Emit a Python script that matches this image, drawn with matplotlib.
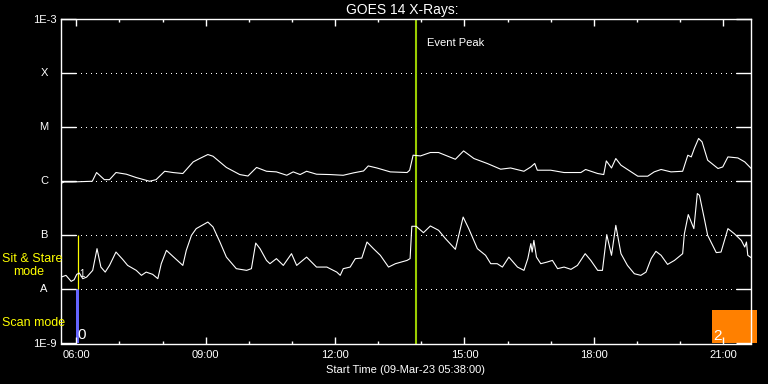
import matplotlib
matplotlib.use("Agg")
import matplotlib.pyplot as plt
from matplotlib.patches import Rectangle
import numpy as np

plt.rcParams['font.family'] = ['Liberation Sans', 'DejaVu Sans']

# ---- data (hours of day, W/m^2) ----
long_t = [5.62, 5.64, 5.72, 5.91, 6.37, 6.47, 6.54, 6.65, 6.77, 6.92, 7.16, 7.39, 7.70, 7.85, 8.05,
          8.24, 8.47, 8.71, 8.86, 9.05, 9.17, 9.48, 9.79, 9.98, 10.18, 10.41, 10.64, 10.88, 11.03, 11.19,
          11.34, 11.57, 11.88, 12.19, 12.43, 12.66, 12.77, 12.97, 13.28, 13.67, 13.73, 13.81, 13.98, 14.21, 14.40,
          14.79, 14.98, 15.22, 15.53, 15.84, 16.07, 16.38, 16.54, 16.63, 16.69, 17.00, 17.31, 17.70, 17.81, 18.09,
          18.23, 18.29, 18.41, 18.51, 18.63, 19.02, 19.25, 19.40, 19.56, 19.79, 20.06, 20.18, 20.26, 20.33, 20.43,
          20.51, 20.64, 20.88, 20.99, 21.11, 21.34, 21.50, 21.65]
long_flux = [2.3e-7, 9.1e-7, 9.7e-7, 9.7e-7, 1.0e-6, 1.45e-6, 1.29e-6, 1.07e-6, 1.07e-6, 1.45e-6, 1.35e-6, 1.17e-6, 1.0e-6, 1.07e-6, 1.53e-6,
             1.45e-6, 1.39e-6, 2.28e-6, 2.63e-6, 3.12e-6, 2.90e-6, 1.80e-6, 1.33e-6, 1.25e-6, 1.80e-6, 1.53e-6, 1.49e-6, 1.29e-6, 1.49e-6, 1.33e-6,
             1.53e-6, 1.35e-6, 1.33e-6, 1.29e-6, 1.43e-6, 1.55e-6, 1.92e-6, 1.76e-6, 1.49e-6, 1.45e-6, 1.60e-6, 3.03e-6, 2.94e-6, 3.40e-6, 3.40e-6,
             2.55e-6, 3.64e-6, 2.63e-6, 2.13e-6, 1.67e-6, 1.76e-6, 1.53e-6, 1.84e-6, 2.13e-6, 1.60e-6, 1.60e-6, 1.45e-6, 1.45e-6, 1.65e-6, 1.39e-6,
             1.33e-6, 2.38e-6, 1.76e-6, 2.63e-6, 1.98e-6, 1.24e-6, 1.24e-6, 1.49e-6, 1.65e-6, 1.49e-6, 1.53e-6, 3.03e-6, 2.82e-6, 4.03e-6, 6.18e-6,
             5.35e-6, 2.45e-6, 1.72e-6, 1.84e-6, 2.82e-6, 2.70e-6, 2.28e-6, 1.72e-6]

short_t = [5.65, 5.76, 5.88, 5.95, 6.01, 6.07, 6.15, 6.24, 6.38, 6.48, 6.57, 6.67, 6.77, 6.92, 7.08,
           7.19, 7.39, 7.51, 7.62, 7.77, 7.89, 7.97, 8.09, 8.24, 8.47, 8.55, 8.67, 8.78, 9.05, 9.17,
           9.33, 9.48, 9.71, 9.95, 10.06, 10.16, 10.26, 10.41, 10.49, 10.64, 10.80, 10.99, 11.11, 11.34, 11.57,
           11.81, 12.04, 12.12, 12.19, 12.35, 12.47, 12.62, 12.74, 12.89, 13.05, 13.24, 13.40, 13.67, 13.74, 13.78,
           13.88, 14.05, 14.21, 14.40, 14.56, 14.79, 14.97, 15.10, 15.30, 15.49, 15.61, 15.76, 15.88, 16.03, 16.23,
           16.38, 16.47, 16.54, 16.57, 16.61, 16.67, 16.77, 16.92, 17.04, 17.16, 17.31, 17.47, 17.62, 17.80, 17.93,
           18.09, 18.20, 18.30, 18.41, 18.51, 18.63, 18.78, 18.94, 19.09, 19.21, 19.33, 19.44, 19.56, 19.71, 19.87,
           20.06, 20.10, 20.19, 20.32, 20.40, 20.45, 20.57, 20.64, 20.84, 20.95, 21.11, 21.26, 21.42, 21.50, 21.54,
           21.57, 21.65]
short_flux = [1.69e-8, 1.82e-8, 1.41e-8, 1.51e-8, 1.90e-8, 2.01e-8, 1.58e-8, 1.69e-8, 2.25e-8, 5.67e-8, 2.59e-8, 2.09e-8, 2.78e-8, 4.91e-8, 3.55e-8,
              2.78e-8, 2.25e-8, 1.82e-8, 2.09e-8, 1.90e-8, 1.58e-8, 2.99e-8, 5.27e-8, 4.08e-8, 2.78e-8, 5.27e-8, 1.00e-7, 1.33e-7, 1.76e-7, 1.43e-7,
              7.52e-8, 3.96e-8, 2.42e-8, 2.25e-8, 2.42e-8, 7.20e-8, 5.67e-8, 3.44e-8, 2.99e-8, 3.71e-8, 2.78e-8, 4.58e-8, 2.78e-8, 3.96e-8, 2.59e-8,
              2.59e-8, 2.09e-8, 1.82e-8, 2.42e-8, 2.59e-8, 3.71e-8, 3.80e-8, 7.52e-8, 5.67e-8, 4.27e-8, 2.59e-8, 2.99e-8, 3.44e-8, 3.71e-8, 1.47e-7,
              1.47e-7, 1.12e-7, 1.49e-7, 1.24e-7, 8.69e-8, 5.51e-8, 2.18e-7, 1.33e-7, 5.67e-8, 4.27e-8, 2.99e-8, 2.99e-8, 2.59e-8, 3.96e-8, 2.59e-8,
              2.25e-8, 3.71e-8, 7.02e-8, 4.91e-8, 8.07e-8, 3.96e-8, 2.99e-8, 3.21e-8, 3.44e-8, 2.42e-8, 2.59e-8, 2.35e-8, 2.78e-8, 4.58e-8, 3.44e-8,
              2.25e-8, 2.25e-8, 1.03e-7, 4.27e-8, 1.53e-7, 4.58e-8, 2.78e-8, 1.95e-8, 1.82e-8, 2.09e-8, 3.71e-8, 5.06e-8, 4.27e-8, 2.90e-8, 3.44e-8,
              4.58e-8, 1.07e-7, 2.42e-7, 1.33e-7, 5.92e-7, 5.51e-7, 1.90e-7, 1.00e-7, 4.79e-8, 4.91e-8, 1.33e-7, 1.07e-7, 8.07e-8, 6.07e-8, 7.52e-8,
              4.27e-8, 3.86e-8]

x_start, x_end = 5 + 38 / 60, 21 + 38 / 60
major_hours = [6, 9, 12, 15, 18, 21]
major_labels = ["06:00", "09:00", "12:00", "15:00", "18:00", "21:00"]
minor_hours = list(range(6, 22))
y_decades = [1e-9, 1e-8, 1e-7, 1e-6, 1e-5, 1e-4, 1e-3]
class_letters = ["A", "B", "C", "M", "X"]
class_levels = [1e-8, 1e-7, 1e-6, 1e-5, 1e-4]
event_peak = 13.88
sit_stare_t, sit_stare_lo, sit_stare_hi = 6.05, 1e-8, 1e-7
scan_t0, scan_t1 = 5.99, 6.06
orange_t0, orange_t1, orange_top = 20.74, 21.78, 4.2e-9

W, H = 768, 384
fig = plt.figure(figsize=(W / 100, H / 100), dpi=100, facecolor='black')
ax = fig.add_axes([60.5 / W, 1 - 343.5 / H, 690 / W, 324.5 / H], facecolor='black')

ax.set_yscale('log')
ax.set_xlim(x_start, x_end)
ax.set_ylim(1e-9, 1e-3)

# grid (dotted) at decades
for lev in class_levels:
    ax.axhline(lev, color='white', lw=0.72, ls=(0, (1, 5)), zorder=1.2, antialiased=False)

# markers
ax.fill_betweenx([1e-9, 1e-8], scan_t0, scan_t1, color='#6666ff', lw=0, zorder=1.3)
ax.vlines(sit_stare_t, sit_stare_lo, sit_stare_hi, color='#ffff00', lw=0.9, zorder=1.4)
ax.axvline(event_peak, color='#99cc00', lw=1.5, zorder=1.4)
ax.add_patch(Rectangle((orange_t0, 1e-9), orange_t1 - orange_t0, orange_top - 1e-9,
                       facecolor='#ff8000', edgecolor='none', clip_on=False, zorder=1.1))

ax.plot(long_t, long_flux, color='white', lw=0.8, zorder=2)
ax.plot(short_t, short_flux, color='white', lw=0.8, zorder=2)

# axes styling
for s in ax.spines.values():
    s.set_color('white')
    s.set_linewidth(1.0)
    s.set_zorder(3)

ax.set_xticks(major_hours)
ax.set_xticklabels(major_labels)
ax.set_xticks(minor_hours, minor=True)
ax.tick_params(axis='x', which='major', direction='in', length=5, width=1, color='white',
               labelcolor='white', labelsize=8, pad=5, top=True, bottom=True)
ax.tick_params(axis='x', which='minor', direction='in', length=2.5, width=1, color='white',
               top=True, bottom=True)

ax.set_yticks(y_decades)
ax.set_yticklabels(["1E-9", "", "", "", "", "", "1E-3"])
ax.yaxis.set_minor_locator(matplotlib.ticker.NullLocator())
ax.tick_params(axis='y', which='major', direction='in', length=10.5, width=1, color='white',
               labelcolor='white', labelsize=8, pad=3, left=True, right=True)

ytr = ax.get_yaxis_transform()
for lab, lev in zip(class_letters, class_levels):
    ax.text(-16.5 / 690, lev, lab, transform=ytr, color='white', fontsize=8,
            ha='center', va='center', clip_on=False)

ax.set_xlabel("Start Time (09-Mar-23 05:38:00)", color='white', fontsize=8, labelpad=3)
fig.text(402 / W, 1 - 10 / H, "GOES 14 X-Rays:", color='white', fontsize=10,
         ha='center', va='center')

ax.text(14.13, 0.926, "Event Peak", transform=ax.get_xaxis_transform(), color='white',
        fontsize=8, ha='left', va='center')
ax.text(6.03, 1.2e-9, "0", color='white', fontsize=11, ha='left', va='baseline')
ax.text(20.76, 1.15e-9, "2", color='white', fontsize=11, ha='left', va='baseline', clip_on=False)
ax.text(6.08, 1.7e-8, "1", color='white', fontsize=7, ha='left', va='baseline')

fig.text(1.7 / W, 1 - 259.3 / H, "Sit & Stare", color='#ffff00', fontsize=9, ha='left', va='center')
fig.text(13.3 / W, 1 - 271.7 / H, "mode", color='#ffff00', fontsize=9, ha='left', va='center')
fig.text(1.7 / W, 1 - 323.3 / H, "Scan mode", color='#ffff00', fontsize=9, ha='left', va='center')

fig.savefig("out.png", dpi=100, facecolor='black')
